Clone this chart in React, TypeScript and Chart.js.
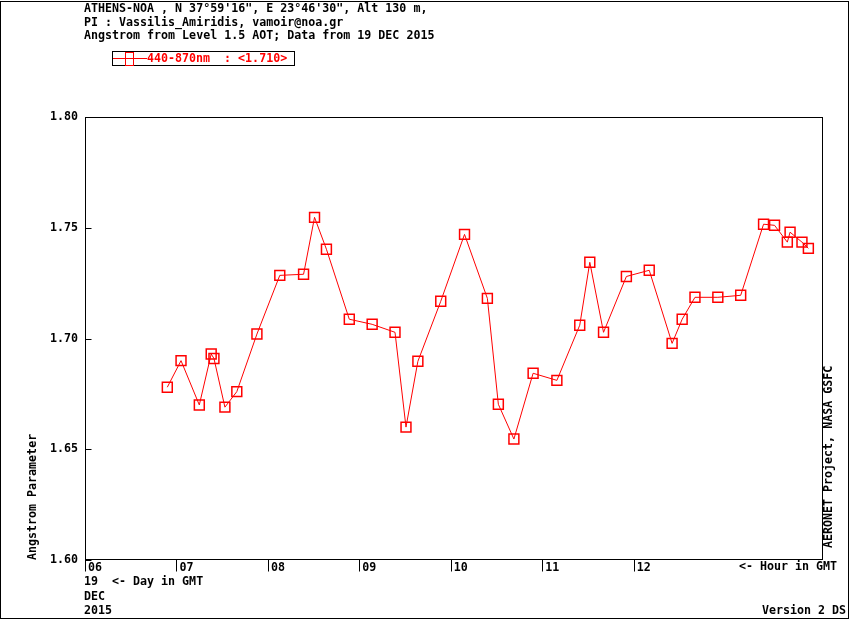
import { useEffect, useRef } from 'react';
import { Chart, registerables } from 'chart.js';

// Register Chart.js components
Chart.register(...registerables);

const FONT = '"DejaVu Sans Mono", "Liberation Mono", monospace';
const FONT_SIZE = 11.65;

// Hour in GMT for each measurement (19 DEC 2015)
const hours = [
  6.9, 7.05, 7.25, 7.38, 7.41, 7.53, 7.66, 7.88, 8.13, 8.39,
  8.51, 8.64, 8.89, 9.14, 9.39, 9.51, 9.64, 9.89, 10.15, 10.4,
  10.52, 10.69, 10.9, 11.16, 11.41, 11.52, 11.67, 11.92, 12.17, 12.42,
  12.53, 12.67, 12.92, 13.17, 13.42, 13.54, 13.68, 13.71, 13.84, 13.91,
];

// Angstrom parameter 440-870nm
const angstrom = [
  1.678, 1.69, 1.67, 1.693, 1.691, 1.669, 1.676, 1.702, 1.7285, 1.729,
  1.7547, 1.7403, 1.7087, 1.7064, 1.7028, 1.66, 1.6897, 1.7168, 1.747, 1.7181,
  1.6703, 1.6546, 1.6843, 1.6811, 1.706, 1.7344, 1.7028, 1.728, 1.7308, 1.6978,
  1.7087, 1.7186, 1.7186, 1.7195, 1.7516, 1.7511, 1.7435, 1.748, 1.7435, 1.7407,
];

const hourTicks = [6, 7, 8, 9, 10, 11, 12];
const angstromTicks = [1.6, 1.65, 1.7, 1.75, 1.8];

const headerLines = [
  'ATHENS-NOA , N 37°59\'16", E 23°46\'30", Alt 130 m,',
  'PI : Vassilis_Amiridis, vamoir@noa.gr',
  'Angstrom from Level 1.5 AOT; Data from 19 DEC 2015',
];
const legendLabel = '440-870nm  : <1.710>';

// Frame, inner tick marks, header, legend and footer notes
const aeronetDecor = {
  id: 'aeronetDecor',
  afterDraw(chart: Chart) {
    const { ctx, chartArea: a } = chart;
    const xs = chart.scales.x;
    const ys = chart.scales.y;
    ctx.save();
    ctx.strokeStyle = '#000';
    ctx.lineWidth = 1;

    // outer frame
    ctx.strokeRect(0.5, 1.5, 848, 617);

    // plot box
    const l = Math.round(a.left) + 0.5;
    const t = Math.round(a.top) + 0.5;
    const r = Math.round(a.right) - 0.5;
    const b = Math.round(a.bottom) - 0.5;
    ctx.strokeRect(l, t, r - l, b - t);

    // y ticks point inwards, x ticks hang below the axis
    ctx.beginPath();
    angstromTicks.forEach((v) => {
      const py = Math.round(ys.getPixelForValue(v)) + 0.5;
      ctx.moveTo(l, py);
      ctx.lineTo(l + 6, py);
    });
    hourTicks.forEach((v) => {
      const px = Math.round(xs.getPixelForValue(v)) + 0.5;
      ctx.moveTo(px, b);
      ctx.lineTo(px, b + 12);
    });
    ctx.stroke();

    ctx.font = `bold ${FONT_SIZE}px ${FONT}`;
    ctx.fillStyle = '#000';
    ctx.textBaseline = 'middle';
    ctx.textAlign = 'left';
    headerLines.forEach((line, i) => ctx.fillText(line, 84, 9 + i * 13.5));

    // legend
    ctx.strokeRect(112.5, 51.5, 182, 14);
    ctx.strokeStyle = '#ff0000';
    ctx.beginPath();
    ctx.moveTo(113, 58.5);
    ctx.lineTo(147, 58.5);
    ctx.stroke();
    ctx.strokeRect(125.5, 52.5, 8, 13);
    ctx.fillStyle = '#ff0000';
    ctx.fillText(legendLabel, 147, 58.5);

    // footer notes
    ctx.fillStyle = '#000';
    ctx.fillText('19  <- Day in GMT', 84, 581.5);
    ctx.fillText('DEC', 84, 596.5);
    ctx.fillText('2015', 84, 611);
    ctx.fillText('<- Hour in GMT', 739, 566.5);
    ctx.textAlign = 'right';
    ctx.fillText('Version 2 DS', 846, 611);

    ctx.translate(829, 548);
    ctx.rotate(-Math.PI / 2);
    ctx.textAlign = 'left';
    ctx.fillText('AERONET Project, NASA GSFC', 0, 0);
    ctx.restore();
  },
};

const AngstromChart = () => {
  const chartRef = useRef<HTMLCanvasElement>(null);
  const chartInstance = useRef<Chart | null>(null);

  useEffect(() => {
    document.body.style.margin = '0';
    if (!chartRef.current) return;
    if (chartInstance.current) {
      chartInstance.current.destroy();
    }

    const points = hours.map((h, i) => ({ x: h, y: angstrom[i] }));
    const tickFont = { family: FONT, size: FONT_SIZE, weight: 'bold' as const };

    chartInstance.current = new Chart(chartRef.current, {
      type: 'line',
      data: {
        datasets: [
          {
            label: '440-870nm',
            data: points,
            borderColor: '#ff0000',
            borderWidth: 1,
            tension: 0,
            pointStyle: 'rect',
            pointRadius: 7,
            pointBorderWidth: 1.5,
            pointBorderColor: '#ff0000',
            pointBackgroundColor: 'rgba(0,0,0,0)',
          },
        ],
      },
      options: {
        responsive: false,
        animation: false,
        color: '#000',
        layout: {
          padding: { top: 117, right: 27, left: 0, bottom: 0 },
        },
        plugins: {
          legend: { display: false },
          tooltip: { enabled: false },
        },
        scales: {
          x: {
            type: 'linear',
            min: 6,
            max: 14.07,
            afterBuildTicks: (axis) => {
              axis.ticks = hourTicks.map((v) => ({ value: v }));
            },
            afterFit: (axis) => {
              axis.height = 60;
            },
            grid: { display: false, drawTicks: false },
            border: { display: false },
            ticks: {
              align: 'start',
              labelOffset: 3,
              padding: 1,
              maxRotation: 0,
              autoSkip: false,
              color: '#000',
              font: tickFont,
              callback: (v) => String(v).padStart(2, '0'),
            },
          },
          y: {
            min: 1.6,
            max: 1.8,
            afterBuildTicks: (axis) => {
              axis.ticks = angstromTicks.map((v) => ({ value: v }));
            },
            afterFit: (axis) => {
              axis.width = 85;
            },
            grid: { display: false, drawTicks: false },
            border: { display: false },
            ticks: {
              padding: 7,
              color: '#000',
              font: tickFont,
              callback: (v) => Number(v).toFixed(2),
            },
            title: {
              display: true,
              text: 'Angstrom Parameter',
              align: 'start',
              color: '#000',
              font: tickFont,
              padding: { top: 26, bottom: 0 },
            },
          },
        },
      },
      plugins: [aeronetDecor],
    });

    return () => {
      if (chartInstance.current) {
        chartInstance.current.destroy();
        chartInstance.current = null;
      }
    };
  }, []);

  return <canvas ref={chartRef} width={850} height={620} />;
};

export default function App() {
  return (
    <div style={{ width: 850, height: 620, background: '#fff' }}>
      <AngstromChart />
    </div>
  );
}
